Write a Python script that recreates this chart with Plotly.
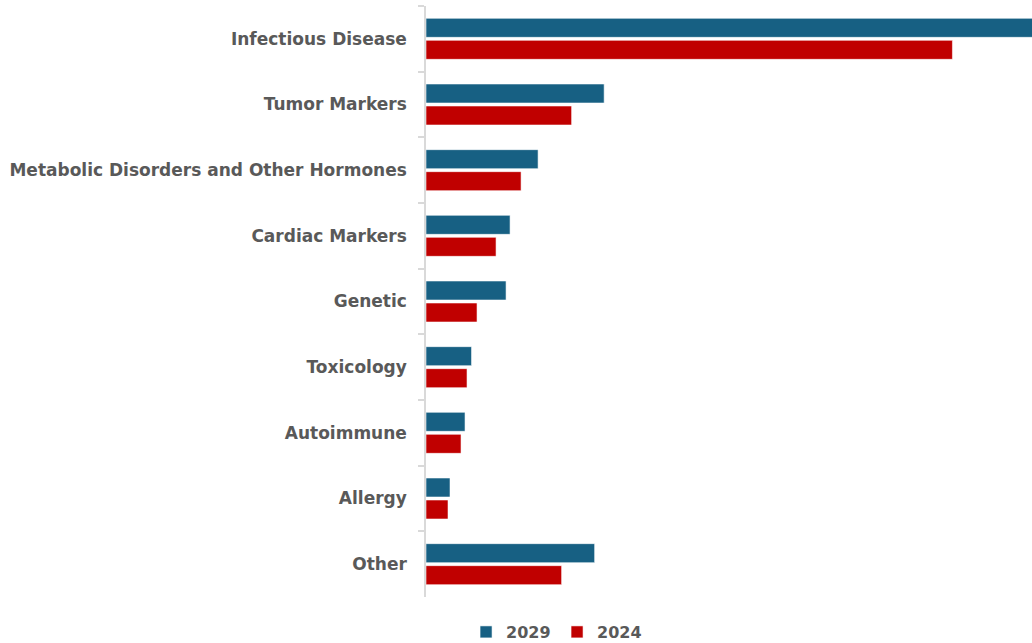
import plotly.graph_objects as go

categories = [
    "Infectious Disease",
    "Tumor Markers",
    "Metabolic Disorders and Other Hormones",
    "Cardiac Markers",
    "Genetic",
    "Toxicology",
    "Autoimmune",
    "Allergy",
    "Other",
]
values_2029 = [62.0, 17.8, 11.2, 8.4, 8.0, 4.55, 3.9, 2.4, 16.85]
values_2024 = [52.6, 14.55, 9.5, 7.0, 5.1, 4.1, 3.5, 2.2, 13.55]

BLUE = "#176083"
RED = "#C00000"
GREY_TEXT = "#595959"
AXIS_GREY = "#D9D9D9"
FONT = "DejaVu Sans, sans-serif"

fig = go.Figure()
fig.add_trace(go.Bar(
    name="2029", y=categories, x=values_2029, orientation="h",
    marker=dict(color=BLUE, line=dict(color="rgba(255,255,255,0.55)", width=1)),
))
fig.add_trace(go.Bar(
    name="2024", y=categories, x=values_2024, orientation="h",
    marker=dict(color=RED, line=dict(color="rgba(255,255,255,0.55)", width=1)),
))

fig.update_layout(
    width=1032, height=643,
    margin=dict(l=426, r=0, t=6, b=46),
    paper_bgcolor="white", plot_bgcolor="white",
    barmode="group", bargap=0.33, bargroupgap=0.136,
    font=dict(family=FONT, color=GREY_TEXT, size=17),
    showlegend=True,
    legend=dict(
        orientation="h", xref="container", yref="container",
        x=0.4516, xanchor="left", y=0.0171, yanchor="middle",
        font=dict(family=FONT, size=16, color=GREY_TEXT, weight="bold"),
        itemwidth=30, entrywidth=46, traceorder="normal",
    ),
)
fig.update_xaxes(
    range=[0, 60.55], showgrid=False, zeroline=False, showticklabels=False,
    showline=False, ticks="",
)
fig.update_yaxes(
    autorange="reversed", showgrid=False, zeroline=False,
    showline=True, linecolor=AXIS_GREY, linewidth=1.5,
    ticks="outside", tickson="boundaries", ticklen=6, tickcolor=AXIS_GREY, tickwidth=1.5,
    ticklabelstandoff=14,
    tickfont=dict(family=FONT, size=17, color=GREY_TEXT, weight="bold"),
)

fig.write_html("out.html")
